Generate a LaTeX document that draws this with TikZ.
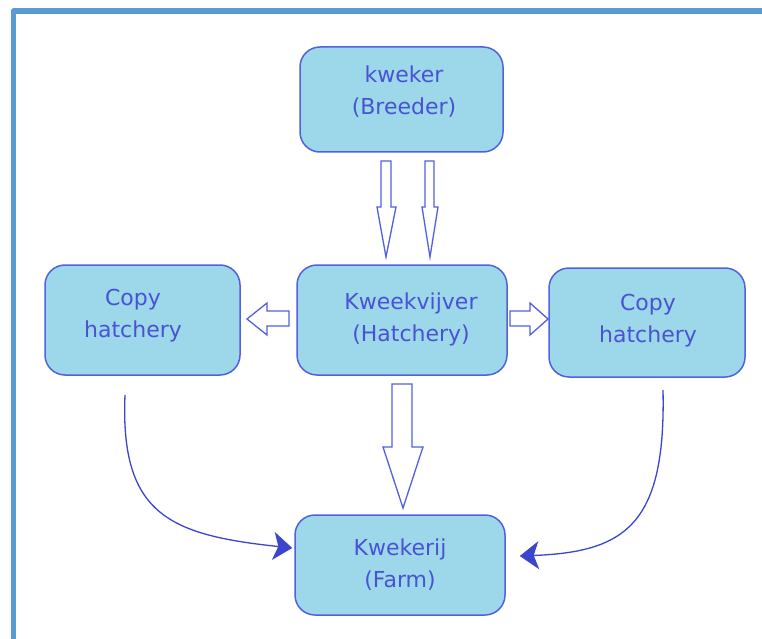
\documentclass[tikz,border=0pt]{standalone}
\usepackage{fontspec}
\setmainfont{DejaVu Sans}
\usetikzlibrary{arrows.meta}
\definecolor{frameblue}{RGB}{91,155,213}
\definecolor{boxfill}{RGB}{157,216,234}
\definecolor{boxline}{RGB}{82,96,222}
\definecolor{txtblue}{RGB}{74,82,212}
\definecolor{arrowblue}{RGB}{60,70,205}
\begin{document}
\begin{tikzpicture}[x=1pt,y=-1pt,
  box/.style={draw=boxline, line width=1.5pt, fill=boxfill, rounded corners=20pt, inner sep=0pt},
  lbl/.style={text=txtblue, font=\fontsize{22}{32}\selectfont, align=center, inner sep=0pt},
  blk/.style={draw=boxline, line width=1.3pt, fill=white, line join=miter},
  curve/.style={draw=arrowblue, line width=1.3pt, -{Stealth[length=19pt,width=28pt,inset=5pt,fill=arrowblue]}}
]
\useasboundingbox (0,0) rectangle (762,639);
\fill[white] (0,0) rectangle (762,639);
% frame
\draw[frameblue, line width=5.5pt, line join=round] (13.5,645) -- (13.5,11) -- (770,11);

% boxes
\node[box, minimum width=203pt, minimum height=105pt] (breeder) at (401.5,99.5) {};
\node[box, minimum width=210pt, minimum height=110pt] (hatch) at (402,320) {};
\node[box, minimum width=195pt, minimum height=110pt] (lcopy) at (142.5,320) {};
\node[box, minimum width=196pt, minimum height=109pt] (rcopy) at (647,322.5) {};
\node[box, minimum width=210pt, minimum height=100pt] (farm) at (400,565) {};

% labels
\node[lbl] (breederlbl) at (404,92) {kweker\\(Breeder)};
\node[lbl] (hatchlbl) at (411,319) {Kweekvijver\\(Hatchery)};
\node[lbl] (lcopylbl) at (133,316) {Copy\\hatchery};
\node[lbl] (rcopylbl) at (648,321) {Copy\\hatchery};
\node[lbl] (farmlbl) at (400,565) {Kwekerij\\(Farm)};

% block arrows: breeder -> hatchery (two thin)
\draw[blk] (381,161) -- (391,161) -- (391,207) -- (396,207) -- (386,257) -- (377,207) -- (381,207) -- cycle;
\draw[blk] (425,161) -- (434,161) -- (434,207) -- (438,207) -- (430,257) -- (422,207) -- (425,207) -- cycle;
% hatchery -> left copy
\draw[blk] (289,311) -- (267,311) -- (267,303) -- (247,319) -- (267,335) -- (267,326) -- (289,326) -- cycle;
% hatchery -> right copy
\draw[blk] (510,311) -- (530,311) -- (530,303) -- (548,319) -- (530,335) -- (530,326) -- (510,326) -- cycle;
% hatchery -> farm
\draw[blk] (392,384) -- (412,384) -- (412,447) -- (423,447) -- (403,508) -- (383,447) -- (392,447) -- cycle;

% curved connectors
\coordinate (lstart) at (125,395);
\coordinate (rstart) at (663,390);
\draw[curve] (lstart) .. controls (120,515) and (170,535) .. ([xshift=-2pt,yshift=17pt]farm.west);
\draw[curve] (rstart) .. controls (666,525) and (625,552) .. ([xshift=14pt,yshift=9pt]farm.east);
\end{tikzpicture}
\end{document}
